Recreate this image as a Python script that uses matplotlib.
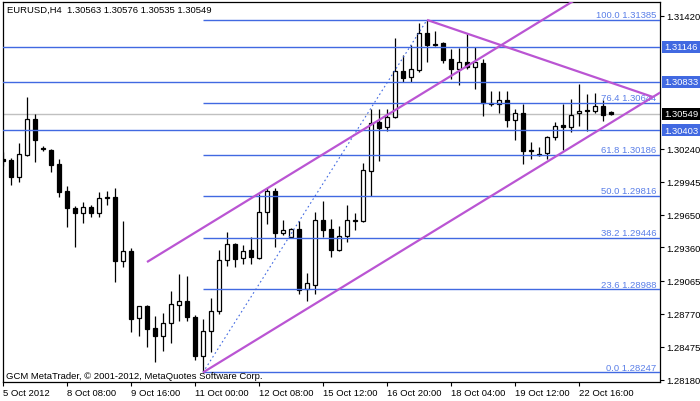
import matplotlib.pyplot as plt
from matplotlib.patches import Rectangle
from matplotlib.transforms import blended_transform_factory

plt.rcParams['font.family'] = ['Liberation Sans', 'DejaVu Sans']
FS = 6.8

# H4 candles, 5 Oct 2012 00:00 .. 23 Oct 08:00
opens = [1.30147, 1.30138, 1.29987, 1.30183, 1.30503, 1.30245, 1.30227, 1.30103, 1.29862, 1.29711,
         1.29666, 1.29720, 1.29666, 1.29800, 1.29809, 1.29239, 1.29328, 1.28732, 1.28839, 1.28643,
         1.28572, 1.28687, 1.28848, 1.28883, 1.28741, 1.28394, 1.28616, 1.28794, 1.29248, 1.29391,
         1.29266, 1.29337, 1.29266, 1.29675, 1.29862, 1.29488, 1.29453, 1.29524, 1.28990, 1.29025,
         1.29604, 1.29524, 1.29337, 1.29462, 1.29595, 1.29595, 1.30040, 1.30476, 1.30432, 1.30521,
         1.30930, 1.30877, 1.30939, 1.31268, 1.31171, 1.31179, 1.31037, 1.30948, 1.31010, 1.30966,
         1.31001, 1.30645, 1.30636, 1.30672, 1.30494, 1.30556, 1.30218, 1.30192, 1.30200, 1.30343,
         1.30450, 1.30432, 1.30556, 1.30574, 1.30574, 1.30619, 1.30563]
highs = [1.30209, 1.30156, 1.30289, 1.30699, 1.30548, 1.30263, 1.30236, 1.30147, 1.29907, 1.29729,
         1.29764, 1.29738, 1.29853, 1.29862, 1.29889, 1.29595, 1.29355, 1.28839, 1.28848, 1.28750,
         1.28776, 1.28972, 1.29124, 1.29106, 1.28759, 1.28723, 1.28910, 1.29337, 1.29497, 1.29400,
         1.29382, 1.29453, 1.29836, 1.29889, 1.29889, 1.29604, 1.29533, 1.29595, 1.29132, 1.29675,
         1.29773, 1.29613, 1.29551, 1.29738, 1.29666, 1.30111, 1.30592, 1.30592, 1.30592, 1.31224,
         1.31073, 1.31162, 1.31357, 1.31385, 1.31286, 1.31188, 1.31126, 1.31135, 1.31268, 1.31144,
         1.31037, 1.30752, 1.30752, 1.30752, 1.30592, 1.30636, 1.30298, 1.30254, 1.30352, 1.30476,
         1.30636, 1.30681, 1.30814, 1.30726, 1.30734, 1.30672, 1.30576]
lows = [1.30085, 1.29916, 1.29942, 1.30175, 1.30120, 1.30218, 1.30031, 1.29809, 1.29542, 1.29364,
        1.29577, 1.29631, 1.29631, 1.29738, 1.29052, 1.29186, 1.28607, 1.28572, 1.28474, 1.28340,
        1.28438, 1.28509, 1.28705, 1.28705, 1.28358, 1.28247, 1.28429, 1.28767, 1.29195, 1.29186,
        1.29214, 1.29214, 1.29257, 1.29568, 1.29364, 1.29471, 1.29444, 1.28946, 1.28883, 1.28946,
        1.29453, 1.29275, 1.29328, 1.29408, 1.29515, 1.29586, 1.29818, 1.30129, 1.30396, 1.30512,
        1.30832, 1.30832, 1.30921, 1.31010, 1.31153, 1.31001, 1.30859, 1.30806, 1.30948, 1.30770,
        1.30530, 1.30619, 1.30556, 1.30432, 1.30316, 1.30103, 1.30147, 1.30174, 1.30147, 1.30316,
        1.30227, 1.30387, 1.30441, 1.30396, 1.30556, 1.30485, 1.30535]
closes = [1.30129, 1.29987, 1.30192, 1.30503, 1.30316, 1.30236, 1.30094, 1.29853, 1.29711, 1.29666,
          1.29720, 1.29666, 1.29800, 1.29809, 1.29239, 1.29328, 1.28723, 1.28839, 1.28634, 1.28572,
          1.28687, 1.28857, 1.28883, 1.28741, 1.28394, 1.28616, 1.28794, 1.29248, 1.29391, 1.29257,
          1.29328, 1.29275, 1.29675, 1.29862, 1.29488, 1.29515, 1.29524, 1.28981, 1.29043, 1.29604,
          1.29515, 1.29337, 1.29462, 1.29604, 1.29604, 1.30049, 1.30467, 1.30423, 1.30521, 1.30930,
          1.30868, 1.30948, 1.31268, 1.31162, 1.31162, 1.31028, 1.30948, 1.31010, 1.30966, 1.31010,
          1.30645, 1.30636, 1.30672, 1.30494, 1.30556, 1.30218, 1.30227, 1.30183, 1.30343, 1.30441,
          1.30432, 1.30539, 1.30574, 1.30583, 1.30619, 1.30539, 1.30549]

date_labels = ['5 Oct 2012', '8 Oct 08:00', '9 Oct 16:00', '11 Oct 00:00', '12 Oct 08:00',
               '15 Oct 12:00', '16 Oct 20:00', '18 Oct 04:00', '19 Oct 12:00', '22 Oct 16:00']
date_bars = [0, 8, 16, 24, 32, 40, 48, 56, 64, 72]

price_ticks = [1.31420, 1.30240, 1.29945, 1.29650, 1.29360, 1.29065, 1.28770, 1.28475, 1.28180]
hlines = [1.31146, 1.30833, 1.30403]
bid = 1.30549

fib_levels = [0.0, 23.6, 38.2, 50.0, 61.8, 76.4, 100.0]
fib_prices = [1.28247, 1.28988, 1.29446, 1.29816, 1.30186, 1.30644, 1.31385]
fib_start, fib_end = 25, 53

# trend lines: (bar, price) endpoints
channel_upper = [(18, 1.29230), (82.2, 1.32029)]
channel_lower = [(25, 1.28247), (82.2, 1.30741)]
down_line = [(53, 1.31385), (81.2, 1.30700)]

BLUE = '#4169E1'
ORCHID = '#BA55D3'

fig = plt.figure(figsize=(7, 4.02), dpi=100)
ax = fig.add_axes([2.5 / 700, 19 / 402, 657.5 / 700, 380.5 / 402])
ax.set_xlim(-0.0625, 82.125)
ax.set_ylim(1.28162, 1.31549)

# candles
for i, (o, h, l, c) in enumerate(zip(opens, highs, lows, closes)):
    ax.vlines(i, l, h, color='black', lw=0.9, zorder=2)
    fill = 'white' if c >= o else 'black'
    ax.bar(i, abs(c - o), bottom=min(o, c), width=0.55, color=fill,
           edgecolor='black', linewidth=0.9, zorder=3)

# horizontal lines
for p in hlines:
    ax.axhline(p, color=BLUE, lw=1, zorder=4)
ax.axhline(bid, color='#c0c0c0', lw=1, zorder=1)

# fibonacci retracement
for lvl, p in zip(fib_levels, fib_prices):
    ax.hlines(p, fib_start, 82.2, color=BLUE, lw=1, zorder=4)
    ax.annotate(f'{lvl:.1f} {p:.5f}', (81.7, p), xytext=(0, 0.5), textcoords='offset points',
                ha='right', va='bottom', fontsize=FS, color='#5a7fe8', zorder=5)
ax.plot([fib_start, fib_end], [fib_prices[0], fib_prices[-1]], color=BLUE, lw=0.8,
        ls=(0, (1.5, 2.5)), zorder=4)

for line in (channel_upper, channel_lower, down_line):
    xs, ys = zip(*line)
    ax.plot(xs, ys, color=ORCHID, lw=1.6, zorder=5, solid_capstyle='butt')

# axes styling
for s in ax.spines.values():
    s.set_linewidth(0.9)
ax.yaxis.tick_right()
ax.set_yticks(price_ticks)
ax.set_yticklabels([f'{p:.5f}' for p in price_ticks])
ax.tick_params(axis='y', length=3, width=0.8, pad=1.5, labelsize=FS)
ax.set_xticks(date_bars)
ax.set_xticklabels(date_labels)
for t in ax.get_xticklabels():
    t.set_horizontalalignment('left')
ax.tick_params(axis='x', length=3, width=0.8, pad=1.5, labelsize=FS)

# highlighted price labels on the scale
tr = blended_transform_factory(fig.transFigure, ax.transData)
box_h = 12 * (ax.get_ylim()[1] - ax.get_ylim()[0]) / 380.5
for p, bg in [(1.31146, BLUE), (1.30833, BLUE), (1.30403, BLUE), (bid, 'black')]:
    ax.add_patch(Rectangle((662 / 700, p - box_h / 2), 38 / 700, box_h, transform=tr,
                           facecolor=bg, edgecolor='none', clip_on=False, zorder=6))
    ax.text(664.5 / 700, p, f'{p:.5f}', transform=tr, color='white', fontsize=FS,
            va='center', ha='left', zorder=7, clip_on=False)

fig.text(7 / 700, 1 - 10 / 402, 'EURUSD,H4  1.30563 1.30576 1.30535 1.30549',
         fontsize=FS, va='center', ha='left')
fig.text(6 / 700, 1 - 377 / 402, 'GCM MetaTrader, © 2001-2012, MetaQuotes Software Corp.',
         fontsize=FS, va='center', ha='left', zorder=8)

fig.savefig('out.png', dpi=100)
